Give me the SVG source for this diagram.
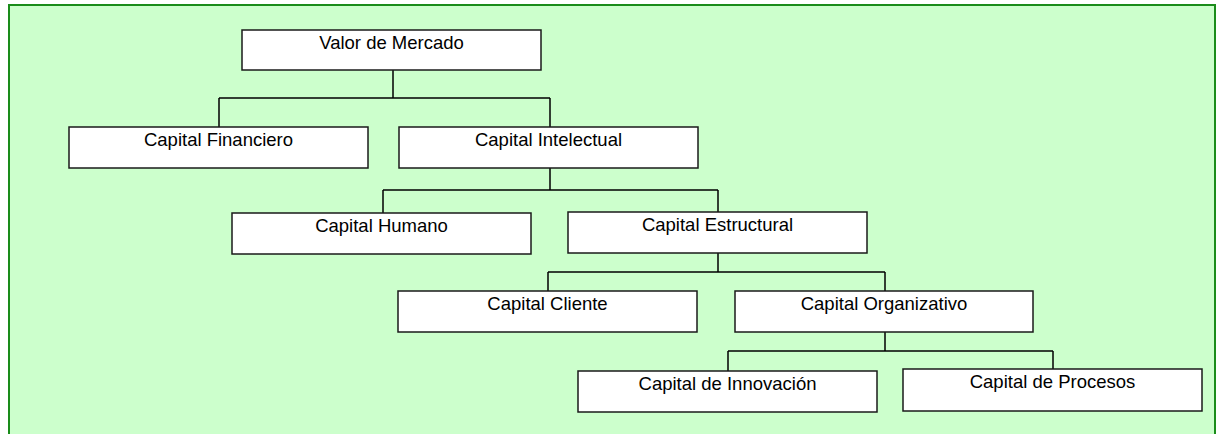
<svg xmlns="http://www.w3.org/2000/svg" width="1223" height="434" viewBox="0 0 1223 434">
<style>
.bg{fill:#ccffcc;stroke:#1a8c1a;stroke-width:2}
.box{fill:#ffffff;stroke:#1a1a1a;stroke-width:1.5}
.lbl{font-family:"Liberation Sans",Arial,sans-serif;font-size:18.5px;fill:#000;text-anchor:middle}
.con{fill:none;stroke:#000;stroke-width:1.5}
</style>
<rect class="bg" x="9" y="5" width="1206" height="440"/>
<g id="connectors">
<path class="con" d="M393,70 V98 M219,98 H550 M219,98 V127 M550,98 V127"/>
<path class="con" d="M550,168 V190 M383,190 H718 M383,190 V213 M718,190 V212"/>
<path class="con" d="M718,253 V272 M548,272 H885 M548,272 V291 M885,272 V291"/>
<path class="con" d="M885,332 V351 M728,351 H1053 M728,351 V371 M1053,351 V369"/>
</g>
<g id="valor"><rect class="box" x="242" y="30" width="299" height="40"/><text class="lbl" x="391.5" y="49">Valor de Mercado</text></g>
<g id="financiero"><rect class="box" x="69" y="127" width="299" height="41"/><text class="lbl" x="218.5" y="146">Capital Financiero</text></g>
<g id="intelectual"><rect class="box" x="399" y="127" width="299" height="41"/><text class="lbl" x="548.5" y="146">Capital Intelectual</text></g>
<g id="humano"><rect class="box" x="232" y="213" width="299" height="41"/><text class="lbl" x="381.5" y="232">Capital Humano</text></g>
<g id="estructural"><rect class="box" x="568" y="212" width="299" height="41"/><text class="lbl" x="717.5" y="231">Capital Estructural</text></g>
<g id="cliente"><rect class="box" x="398" y="291" width="299" height="41"/><text class="lbl" x="547.5" y="310">Capital Cliente</text></g>
<g id="organizativo"><rect class="box" x="735" y="291" width="298" height="41"/><text class="lbl" x="884" y="310">Capital Organizativo</text></g>
<g id="innovacion"><rect class="box" x="578" y="371" width="299" height="41"/><text class="lbl" x="727.5" y="390">Capital de Innovación</text></g>
<g id="procesos"><rect class="box" x="903" y="369" width="299" height="42"/><text class="lbl" x="1052.5" y="388">Capital de Procesos</text></g>
</svg>
